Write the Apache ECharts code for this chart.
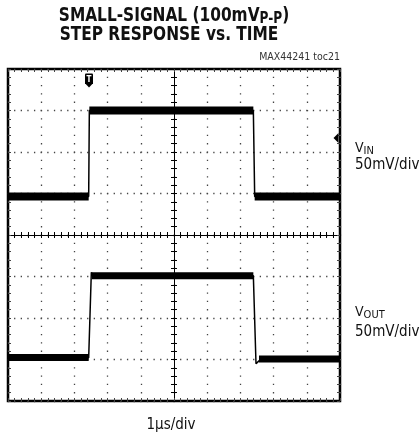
<!DOCTYPE html>
<html>
<head>
<meta charset="utf-8">
<script src="https://cdn.jsdelivr.net/npm/echarts@6/dist/echarts.min.js"></script>
<style>
  html, body { margin: 0; padding: 0; background: #fff; }
  #chart { width: 420px; height: 437px; }
</style>
</head>
<body>
<div id="chart"></div>
<script>
// screen divisions, origin at the centre of the graticule (1us/div, 50mV/div)
const vinT = [-5, -2.57, -2.55, 2.39, 2.43, 5];
const vinV = [0.93, 0.93, 3.0, 3.0, 0.93, 0.93];
const voutT = [-5, -2.57, -2.49, -2.44, -2.3, 2.39, 2.47, 2.52, 2.62, 5];
const voutV = [-2.96, -2.96, -0.9, -0.97, -0.98, -0.98, -3.1, -3.14, -2.99, -2.99];

// noisy flat parts of each trace: [start, end, level]
const vinBands = [[-5, -2.57, 0.93], [-2.55, 2.39, 3.0], [2.43, 5, 0.93]];
const voutBands = [[-5, -2.57, -2.95], [-2.47, 2.39, -0.98], [2.56, 5, -2.99]];

const trigger = [-2.56, 3.72];
const trigLevel = [5, 2.34];

const FONT = "'Liberation Sans Narrow', 'DejaVu Sans Condensed', sans-serif";
const DOT = "#444";

const chart = echarts.init(document.getElementById("chart"), null, { renderer: "canvas" });

const pts = (t, v) => t.map((x, i) => [x, v[i]]);

function axisOf(kind, position, center, inside) {
  const col = center ? "#000" : DOT;
  return {
    type: "value",
    min: kind === "x" ? -5 : -4,
    max: kind === "x" ? 5 : 4,
    interval: 1,
    position,
    axisLine: { show: center, onZero: center, lineStyle: { color: "#000", width: 1 } },
    axisTick: { show: true, inside, length: 3, lineStyle: { color: col, width: 1 } },
    minorTick: { show: true, splitNumber: 5, length: 3, lineStyle: { color: col, width: 1 } },
    axisLabel: { show: false },
    splitLine: { show: false },
  };
}

const xAxes = [
  axisOf("x", "bottom", true, false),
  axisOf("x", "top", true, false),
  axisOf("x", "bottom", false, true),
  axisOf("x", "top", false, true),
];
xAxes[0].splitLine = { show: true, lineStyle: { color: DOT, width: 1.3, type: [1.3, 7.0], dashOffset: 0.6 } };
const yAxes = [
  axisOf("y", "left", true, false),
  axisOf("y", "right", true, false),
  axisOf("y", "left", false, true),
  axisOf("y", "right", false, true),
];
yAxes[0].splitLine = { show: true, lineStyle: { color: DOT, width: 1.3, type: [1.3, 5.34], dashOffset: 0.6 } };

const bandSeries = (bands, width) => bands.map((b) => ({
  type: "line", symbol: "none", silent: true, z: 3,
  data: [[b[0], b[2]], [b[1], b[2]]],
  lineStyle: { color: "#000", width },
}));

const series = [
  {
    name: "VIN", type: "line", symbol: "none", z: 4,
    data: pts(vinT, vinV),
    lineStyle: { color: "#000", width: 1.5 },
    markPoint: {
      silent: true,
      data: [
        {
          coord: trigger,
          symbol: "path://M1,0 H7 Q8,0 8,1 V9 L4,13 L0,9 V1 Q0,0 1,0 Z",
          symbolSize: [8, 14],
          itemStyle: { color: "#000" },
          label: { show: true, formatter: "T", color: "#fff", fontSize: 8, fontWeight: "bold", fontFamily: FONT, offset: [0, -1] },
        },
        {
          coord: trigLevel,
          symbol: "triangle", symbolRotate: 90, symbolSize: [10, 5], symbolOffset: [-4, 0],
          itemStyle: { color: "#000" },
          label: { show: false },
        },
      ],
    },
  },
  ...bandSeries(vinBands, 8),
  {
    name: "VOUT", type: "line", symbol: "none", z: 4,
    data: pts(voutT, voutV),
    lineStyle: { color: "#000", width: 1.5 },
  },
  ...bandSeries(voutBands, 7),
];

const txt = (x, y, text, extra, scaleX) => ({
  type: "text", x, y, silent: true, scaleX: scaleX || 1,
  style: Object.assign({ text, fill: "#111", fontFamily: FONT, fontSize: 14, align: "left", verticalAlign: "middle" }, extra),
});

const subRich = {
  m: { fontFamily: FONT, fontSize: 14, fill: "#111", lineHeight: 16 },
  s: { fontFamily: FONT, fontSize: 11, fill: "#111", lineHeight: 12, padding: [6, 0, 0, 0] },
};

chart.setOption({
  animation: false,
  grid: { left: 8, top: 69, width: 332, height: 332, show: true, borderColor: "#000", borderWidth: 2.5, backgroundColor: "#fff" },
  xAxis: xAxes,
  yAxis: yAxes,
  series,
  graphic: [
    txt(174, 16, "{b|SMALL-SIGNAL (100mV}{s|P-P}{b|)}", {
      align: "center",
      rich: {
        b: { fontFamily: FONT, fontSize: 19, fontWeight: "bold", fill: "#111", lineHeight: 22 },
        s: { fontFamily: FONT, fontSize: 15, fontWeight: "bold", fill: "#111", lineHeight: 16, padding: [6, 0, 0, 0] },
      },
    }, 0.9),
    txt(169, 35, "STEP RESPONSE vs. TIME", { align: "center", fontSize: 19, fontWeight: "bold" }, 0.9),
    txt(340, 57, "MAX44241 toc21", { align: "right", fontSize: 10.5, fill: "#333" }),
    txt(355, 148, "{m|V}{s|IN}", { rich: subRich }),
    txt(355, 165, "50mV/div", { fontSize: 15 }),
    txt(355, 312, "{m|V}{s|OUT}", { rich: subRich }),
    txt(355, 332, "50mV/div", { fontSize: 15 }),
    txt(171, 425, "1\u00b5s/div", { align: "center", fontSize: 15 }),
  ],
});
</script>
</body>
</html>
